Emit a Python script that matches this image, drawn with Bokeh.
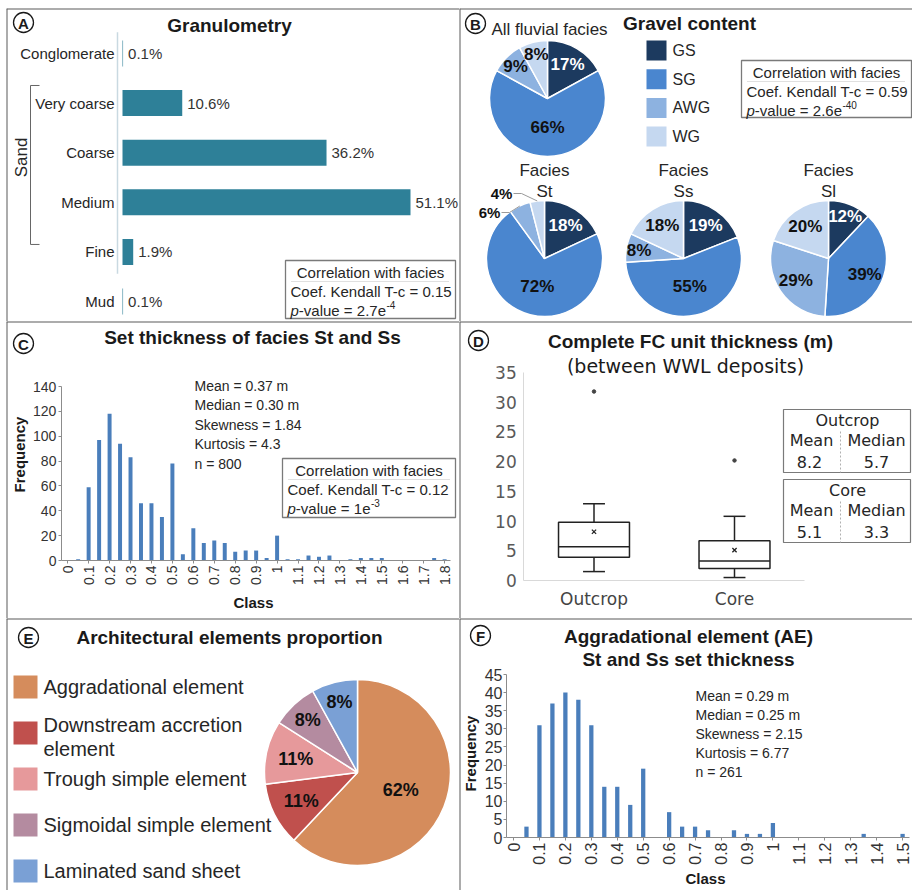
import numpy as np
from bokeh.plotting import figure
from bokeh.models import Range1d, LinearAxis, FixedTicker, Spacer, Span
from bokeh.layouts import row, column
from bokeh.core.properties import value
from bokeh.embed import file_html
from bokeh.resources import INLINE

# ---------------- data ----------------
A_categories = ["Conglomerate", "Very coarse", "Coarse", "Medium", "Fine", "Mud"]
A_percent = [0.1, 10.6, 36.2, 51.1, 1.9, 0.1]
A_sand_first, A_sand_last = "Very coarse", "Fine"
A_corr = ["0.15", "2.7e", "-4"]

B_classes = ["GS", "SG", "AWG", "WG"]
B_all = [17, 66, 9, 8]
B_st = [18, 72, 6, 4]
B_ss = [19, 55, 8, 18]
B_sl = [12, 39, 29, 20]
B_facies = ["St", "Ss", "Sl"]
B_corr = ["0.59", "2.6e", "-40"]

C_classes = ["0", "0.05", "0.1", "0.15", "0.2", "0.25", "0.3", "0.35", "0.4", "0.45",
             "0.5", "0.55", "0.6", "0.65", "0.7", "0.75", "0.8", "0.85", "0.9", "0.95",
             "1", "1.05", "1.1", "1.15", "1.2", "1.25", "1.3", "1.35", "1.4", "1.45",
             "1.5", "1.55", "1.6", "1.65", "1.7", "1.75", "1.8"]
C_freq = [0, 1, 59, 97, 118, 94, 83, 46, 46, 35,
          78, 5, 26, 14, 16, 14, 7, 8, 8, 2,
          20, 1, 1, 4, 3, 4, 0, 1, 2, 2,
          2, 0, 0, 0, 0, 2, 1]
C_stats = ["Mean = 0.37 m", "Median = 0.30 m", "Skewness = 1.84", "Kurtosis = 4.3"]
C_corr = ["0.12", "1e", "-3"]

D_groups = ["Outcrop", "Core"]
D_lower = [1.5, 0.5]
D_q1 = [3.9, 2.0]
D_median = [5.7, 3.3]
D_q3 = [9.8, 6.7]
D_upper = [12.9, 10.8]
D_mean = [8.2, 5.1]
D_outlier = [31.8, 20.2]

E_elements = ["Aggradational element", "Downstream accretion element",
              "Trough simple element", "Sigmoidal simple element", "Laminated sand sheet"]
E_percent = [62, 11, 11, 8, 8]

F_classes = ["0", "0.05", "0.1", "0.15", "0.2", "0.25", "0.3", "0.35", "0.4", "0.45",
             "0.5", "0.55", "0.6", "0.65", "0.7", "0.75", "0.8", "0.85", "0.9", "0.95",
             "1", "1.05", "1.1", "1.15", "1.2", "1.25", "1.3", "1.35", "1.4", "1.45", "1.5"]
F_freq = [0, 3, 31, 37, 40, 38, 31, 14, 14, 9,
          19, 0, 7, 3, 3, 2, 0, 2, 1, 1,
          4, 0, 0, 0, 0, 0, 0, 1, 0, 0, 1]
F_stats = ["Mean = 0.29 m", "Median = 0.25 m", "Skewness = 2.15", "Kurtosis = 6.77"]

# ---------------- styles ----------------
FONT = "Liberation Sans"
DFONT = "DejaVu Sans"
TXT = "#262626"
A_BAR = "#2e8098"
HIST_BAR = "#4a7ebb"
B_COLORS = ["#1c3a5f", "#4a86cf", "#8db2e0", "#c5d8f0"]
B_LABEL_COLORS = ["white", "#111111", "#111111", "#111111"]
E_COLORS = ["#d58c5c", "#c0504d", "#e6999b", "#b48ba0", "#7aa0d5"]
BORDER = "#5a5a5a"

AW = {' ': 278, '-': 333, '=': 584, '.': 278, 'a': 556, 'e': 556, 'l': 222,
      'u': 556, 'v': 500, 'p': 556}


def tw(s, size):
    return sum(AW.get(ch, 556) for ch in s) * size / 1000.0


class Conv:
    def __init__(self, w, h, xs, xe, ys, ye):
        self.w, self.h, self.xs, self.xe, self.ys, self.ye = w, h, xs, xe, ys, ye

    def x(self, px):
        return self.xs + px / self.w * (self.xe - self.xs)

    def y(self, py):
        return self.ys + (self.h - py) / self.h * (self.ye - self.ys)


def make_fig(w, h, xs, xe, ys, ye):
    p = figure(width=w, height=h, x_range=Range1d(xs, xe), y_range=Range1d(ys, ye),
               output_backend="svg", toolbar_location=None,
               x_axis_type=None, y_axis_type=None,
               min_border=0, min_border_left=0, min_border_right=0,
               min_border_top=0, min_border_bottom=0,
               outline_line_color=None, background_fill_color="white",
               border_fill_color="white")
    p.add_layout(Span(location=xs, dimension="height", line_color=BORDER, line_width=2))
    p.add_layout(Span(location=ye, dimension="width", line_color=BORDER, line_width=2))
    return p, Conv(w, h, xs, xe, ys, ye)


def T(p, cv, px, py, s, size, font=FONT, style="normal", color=TXT, align="left",
      baseline="middle", angle=0.0):
    p.text(x=[cv.x(px)], y=[cv.y(py)], text=[s], text_font=value(font),
           text_font_size=value(f"{size}px"), text_font_style=style,
           text_color=color, text_align=align, text_baseline=baseline, angle=angle)


def circ_letter(p, cv, px, py, letter):
    p.scatter(x=[cv.x(px)], y=[cv.y(py)], marker="circle", size=20, fill_color=None,
              line_color="#1a1a1a", line_width=1.3)
    T(p, cv, px, py + 0.5, letter, 15, style="bold", color="#1a1a1a", align="center")


def corr_box(p, cv, x0, y0, x1, y1, corr):
    coef, base, exp = corr
    p.quad(left=[cv.x(x0)], right=[cv.x(x1)], top=[cv.y(y0)], bottom=[cv.y(y1)],
           fill_color=None, line_color="#7a7a7a", line_width=1.3)
    T(p, cv, (x0 + x1) / 2, y0 + 12, "Correlation with facies", 15, align="center")
    p.line(x=[cv.x(x0 + 6), cv.x(x1 - 6)], y=[cv.y(y0 + 21)] * 2, line_color="#c0c0c0",
           line_width=1, line_dash="1 1")
    T(p, cv, x0 + 5, y0 + 31, f"Coef. Kendall T-c = {coef}", 15)
    T(p, cv, x0 + 5, y0 + 50, "p", 15, style="italic")
    xp = x0 + 5 + tw("p", 15)
    rest = f"-value = {base}"
    T(p, cv, xp, y0 + 50, rest, 15)
    T(p, cv, xp + tw(rest, 15) + 0.5, y0 + 44, exp, 10)


def pie(p, cv, cxp, cyp, r, shares, colors, label_colors, size, outside=None, small=0.1):
    vals = np.array(shares, dtype=float)
    frac = vals / vals.sum()
    c1 = np.cumsum(frac)
    c0 = c1 - frac
    start = np.pi / 2 - 2 * np.pi * c1
    end = np.pi / 2 - 2 * np.pi * c0
    cx, cy = cv.x(cxp), cv.y(cyp)
    n = len(vals)
    p.wedge(x=[cx] * n, y=[cy] * n, radius=r, start_angle=list(start), end_angle=list(end),
            fill_color=colors, line_color="white", line_width=1.5)
    mid = (c0 + c1) / 2
    ang = np.pi / 2 - 2 * np.pi * mid
    outside = outside or {}
    for i in range(n):
        lab = f"{shares[i]}%"
        if i in outside:
            lx, ly = outside[i]
            T(p, cv, lx, ly, lab, 15, style="bold", color="#111111", align="center")
            ex = cx + r * np.cos(ang[i])
            ey = cy + r * np.sin(ang[i])
            xs_ = [cv.x(lx + 12), cv.x(lx + 20), ex]
            ys_ = [cv.y(ly), cv.y(ly), ey]
            p.line(x=xs_, y=ys_, line_color="#9a9a9a", line_width=1)
            continue
        f = 0.5 if frac[i] >= 0.5 else (0.68 if frac[i] > small + 1e-9 else 0.78)
        lx = cx + r * f * np.cos(ang[i])
        ly = cy + r * f * np.sin(ang[i])
        p.text(x=[lx], y=[ly], text=[lab], text_font=value(FONT),
               text_font_size=value(f"{size}px"), text_font_style="bold",
               text_color=label_colors[i], text_align="center", text_baseline="middle")


# ================= Panel A =================
WA, HA = 453, 313
a_scale = 288 / 51.1
a_y0, a_sp = 45, 49.6
pA, cA = make_fig(WA, HA, -116 / a_scale, (WA - 116) / a_scale,
                  (HA - a_y0) / a_sp, -a_y0 / a_sp)
a_idx = np.arange(len(A_categories))
pA.hbar(y=a_idx, left=0, right=A_percent, height=0.524, fill_color=A_BAR, line_color=None)
pA.text(x=A_percent, y=a_idx, text=[f"{v}%" for v in A_percent], x_offset=5,
        text_font=value(FONT), text_font_size=value("15px"), text_color="#333333",
        text_align="left", text_baseline="middle")
ax_x = cA.x(111)
yaxA = LinearAxis(fixed_location=ax_x, ticker=FixedTicker(ticks=list(a_idx)),
                  major_label_overrides={int(i): c for i, c in zip(a_idx, A_categories)},
                  axis_line_color=None, major_tick_line_color=None, minor_tick_line_color=None,
                  major_tick_out=0, major_tick_in=0,
                  major_label_standoff=3, major_label_text_font=FONT,
                  major_label_text_font_size="15px", major_label_text_color=TXT)
pA.add_layout(yaxA, "left")
i_first = A_categories.index(A_sand_first)
i_last = A_categories.index(A_sand_last)
pA.segment(x0=[ax_x], x1=[ax_x], y0=[a_idx[0] - 0.43], y1=[i_last + 0.44],
           line_color="#c9d9e1", line_width=1.5)
bx0, bx1 = cA.x(24), cA.x(33)
b_top, b_bot = i_first - 0.355, i_last - 0.15
pA.line(x=[bx1, bx0, bx0, bx1], y=[b_top, b_top, b_bot, b_bot], line_color="#666666",
        line_width=1)
T(pA, cA, 15, 149, "Sand", 17, align="center", angle=np.pi / 2)
circ_letter(pA, cA, 17, 14, "A")
T(pA, cA, 223, 17, "Granulometry", 19, style="bold", color="#1a1a1a", align="center")
corr_box(pA, cA, 279, 252, 449, 310, A_corr)

# ================= Panel B =================
WB, HB = 453, 313
pB, cB = make_fig(WB, HB, 0, WB, 0, HB)
circ_letter(pB, cB, 16, 15, "B")
T(pB, cB, 90, 21, "All fluvial facies", 17, align="center")
T(pB, cB, 230, 15, "Gravel content", 19, style="bold", color="#1a1a1a", align="center")
pie(pB, cB, 88, 90, 58, B_all, B_COLORS, B_LABEL_COLORS, 17, small=0.12)
leg_y = [cB.y(42 + 28.7 * i) for i in range(len(B_classes))]
pB.rect(x=[cB.x(197)] * len(B_classes), y=leg_y, width=20, height=20,
        fill_color=B_COLORS, line_color=None)
pB.text(x=[cB.x(213)] * len(B_classes), y=leg_y, text=B_classes, text_font=value(FONT),
        text_font_size=value("16px"), text_color=TXT, text_baseline="middle")
corr_box(pB, cB, 282, 52, 452, 109, B_corr)
for name, shares, cxp in zip(B_facies, [B_st, B_ss, B_sl], [85, 224, 369]):
    T(pB, cB, cxp, 162, "Facies", 17, align="center")
    T(pB, cB, cxp, 183, name, 17, align="center")
    outside = {2: (30, 204), 3: (42, 185)} if name == "St" else None
    pie(pB, cB, cxp, 250, 58, shares, B_COLORS, B_LABEL_COLORS, 17, outside=outside,
        small=0.12)

# ================= Panel C =================
WC, HC = 453, 297
c_sp, c_x0 = 10.47, 61.2
c_py0, c_pps = 239, 174 / 140
pC, cC = make_fig(WC, HC, -c_x0 / c_sp, (WC - c_x0) / c_sp,
                  -(HC - c_py0) / c_pps, c_py0 / c_pps)
c_idx = np.arange(len(C_classes))
pC.vbar(x=c_idx, top=C_freq, width=0.38, fill_color=HIST_BAR, line_color=None)
even = [int(i) for i in c_idx if i % 2 == 0]
yaxC = LinearAxis(fixed_location=-0.6, bounds=(0, 140),
                  ticker=FixedTicker(ticks=list(range(0, 141, 20))),
                  axis_line_color="#8c8c8c", major_tick_line_color="#8c8c8c",
                  major_tick_out=3, major_tick_in=0, minor_tick_line_color=None,
                  major_label_standoff=2, major_label_text_font=FONT,
                  major_label_text_font_size="14px", major_label_text_color="#333333")
pC.add_layout(yaxC, "left")
xaxC = LinearAxis(fixed_location=0, bounds=(-0.6, len(C_classes) - 0.45),
                  ticker=FixedTicker(ticks=even),
                  major_label_overrides={i: C_classes[i] for i in even},
                  major_label_orientation=np.pi / 2,
                  axis_line_color="#8c8c8c", major_tick_line_color="#8c8c8c",
                  major_tick_out=3, major_tick_in=0, minor_tick_line_color=None,
                  major_label_standoff=2, major_label_text_font=FONT,
                  major_label_text_font_size="14px", major_label_text_color="#333333")
pC.add_layout(xaxC, "below")
circ_letter(pC, cC, 17, 22, "C")
T(pC, cC, 246, 16, "Set thickness of facies St and Ss", 19, style="bold", color="#1a1a1a",
  align="center")
for k, s in enumerate(C_stats + [f"n = {sum(C_freq)}"]):
    T(pC, cC, 188, 64 + 19.5 * k, s, 14)
corr_box(pC, cC, 276, 137, 449, 196, C_corr)
T(pC, cC, 13, 133, "Frequency", 15, style="bold", color="#1a1a1a", align="center",
  angle=np.pi / 2)
T(pC, cC, 247, 281, "Class", 15, style="bold", color="#1a1a1a", align="center")

# ================= Panel D =================
WD, HD = 453, 297
d_sp, d_x0 = 140.5, 134.5
d_py0, d_pps = 259, 208 / 35
pD, cD = make_fig(WD, HD, -d_x0 / d_sp, (WD - d_x0) / d_sp,
                  -(HD - d_py0) / d_pps, d_py0 / d_pps)
d_idx = np.arange(len(D_groups))
bw = 0.505
pD.vbar(x=d_idx, bottom=D_q1, top=D_q3, width=bw, fill_color=None, line_color="#222222",
        line_width=1.5)
pD.segment(x0=d_idx - bw / 2, x1=d_idx + bw / 2, y0=D_median, y1=D_median,
           line_color="#222222", line_width=1.5)
pD.segment(x0=d_idx, x1=d_idx, y0=D_q3, y1=D_upper, line_color="#222222", line_width=1.5)
pD.segment(x0=d_idx, x1=d_idx, y0=D_q1, y1=D_lower, line_color="#222222", line_width=1.5)
pD.segment(x0=d_idx - 0.078, x1=d_idx + 0.078, y0=D_upper, y1=D_upper,
           line_color="#222222", line_width=1.5)
pD.segment(x0=d_idx - 0.078, x1=d_idx + 0.078, y0=D_lower, y1=D_lower,
           line_color="#222222", line_width=1.5)
pD.scatter(x=d_idx, y=D_mean, marker="x", size=6, line_color="#222222", line_width=1.3)
pD.scatter(x=d_idx, y=D_outlier, marker="circle", size=3.5, fill_color="#444444",
           line_color="#444444")
yaxD = LinearAxis(fixed_location=-0.5, bounds=(0, 35),
                  ticker=FixedTicker(ticks=list(range(0, 36, 5))),
                  axis_line_color="#d9d9d9", major_tick_line_color=None,
                  major_tick_out=0, major_tick_in=0,
                  minor_tick_line_color=None, major_label_standoff=7,
                  major_label_text_font=DFONT, major_label_text_font_size="17px",
                  major_label_text_color="#595959")
pD.add_layout(yaxD, "left")
xaxD = LinearAxis(fixed_location=0, bounds=(-0.5, 1.5), ticker=FixedTicker(ticks=list(d_idx)),
                  major_label_overrides={int(i): g for i, g in zip(d_idx, D_groups)},
                  axis_line_color="#d9d9d9", major_tick_line_color=None,
                  major_tick_out=0, major_tick_in=0,
                  minor_tick_line_color=None, major_label_standoff=8,
                  major_label_text_font=DFONT, major_label_text_font_size="17px",
                  major_label_text_color="#444444")
pD.add_layout(xaxD, "below")
circ_letter(pD, cD, 19, 19, "D")
T(pD, cD, 231, 20, "Complete FC unit thickness (m)", 19, style="bold", color="#1a1a1a",
  align="center")
T(pD, cD, 226, 44, "(between WWL deposits)", 19, font=DFONT, color="#1a1a1a", align="center")
for k, (g, mval, medval) in enumerate(zip(D_groups, D_mean, D_median)):
    y0 = 88 + 70 * k
    pD.quad(left=[cD.x(324)], right=[cD.x(451)], top=[cD.y(y0)], bottom=[cD.y(y0 + 63)],
            fill_color=None, line_color="#7a7a7a", line_width=1.2)
    pD.line(x=[cD.x(381)] * 2, y=[cD.y(y0 + 22), cD.y(y0 + 63)], line_color="#b0b0b0",
            line_width=1, line_dash="2 2")
    T(pD, cD, 388, y0 + 11, g, 16, font=DFONT, align="center")
    T(pD, cD, 352, y0 + 31, "Mean", 16, font=DFONT, align="center")
    T(pD, cD, 417, y0 + 31, "Median", 16, font=DFONT, align="center")
    T(pD, cD, 350, y0 + 52, f"{mval:.1f}", 16, font=DFONT, align="center")
    T(pD, cD, 417, y0 + 52, f"{medval:.1f}", 16, font=DFONT, align="center")

# ================= Panel E =================
WE, HE = 453, 272
pE, cE = make_fig(WE, HE, 0, WE, 0, HE)
circ_letter(pE, cE, 22, 19, "E")
T(pE, cE, 223, 19, "Architectural elements proportion", 19, style="bold", color="#1a1a1a",
  align="center")
e_leg_y = [68.5 + 46 * i for i in range(len(E_elements))]
pE.rect(x=[cE.x(19)] * len(E_elements), y=[cE.y(v) for v in e_leg_y], width=24, height=23,
        fill_color=E_COLORS, line_color=None)
for name, ly in zip(E_elements, e_leg_y):
    if len(name) > 25:
        cut = name.rfind(" ")
        lines = [name[:cut], name[cut + 1:]]
        T(pE, cE, 37, ly - 8, lines[0], 20)
        T(pE, cE, 37, ly + 16, lines[1], 20)
    else:
        T(pE, cE, 37, ly, name, 20)
pie(pE, cE, 351, 154, 93, E_percent, E_COLORS, ["#111111"] * len(E_percent), 18)

# ================= Panel F =================
WF, HF = 453, 272
f_sp, f_x0 = 12.97, 54
f_py0, f_pps = 219, 163 / 45
pF, cF = make_fig(WF, HF, -f_x0 / f_sp, (WF - f_x0) / f_sp,
                  -(HF - f_py0) / f_pps, f_py0 / f_pps)
f_idx = np.arange(len(F_classes))
pF.vbar(x=f_idx, top=F_freq, width=0.33, fill_color=HIST_BAR, line_color=None)
f_even = [int(i) for i in f_idx if i % 2 == 0]
yaxF = LinearAxis(fixed_location=-0.54, bounds=(0, 45),
                  ticker=FixedTicker(ticks=list(range(0, 46, 5))),
                  axis_line_color="#8c8c8c", major_tick_line_color="#8c8c8c",
                  major_tick_out=3, major_tick_in=0, minor_tick_line_color=None,
                  major_label_standoff=1, major_label_text_font=FONT,
                  major_label_text_font_size="16px", major_label_text_color="#333333")
pF.add_layout(yaxF, "left")
xaxF = LinearAxis(fixed_location=0, bounds=(-0.54, len(F_classes) - 0.45),
                  ticker=FixedTicker(ticks=f_even),
                  major_label_overrides={i: F_classes[i] for i in f_even},
                  major_label_orientation=np.pi / 2,
                  axis_line_color="#8c8c8c", major_tick_line_color="#8c8c8c",
                  major_tick_out=3, major_tick_in=0, minor_tick_line_color=None,
                  major_label_standoff=2, major_label_text_font=FONT,
                  major_label_text_font_size="16px", major_label_text_color="#333333")
pF.add_layout(xaxF, "below")
circ_letter(pF, cF, 21, 17, "F")
T(pF, cF, 229, 18, "Aggradational element (AE)", 19, style="bold", color="#1a1a1a",
  align="center")
T(pF, cF, 229, 41, "St and Ss set thickness", 19, style="bold", color="#1a1a1a",
  align="center")
for k, s in enumerate(F_stats + [f"n = {sum(F_freq)}"]):
    T(pF, cF, 236, 77 + 19 * k, s, 14)
T(pF, cF, 11, 135, "Frequency", 15, style="bold", color="#1a1a1a", align="center",
  angle=np.pi / 2)
T(pF, cF, 246, 260, "Class", 15, style="bold", color="#1a1a1a", align="center")

# ================= layout =================
grid = column(row(pA, pB), row(pC, pD), row(pE, pF))
layout = column(Spacer(width=912, height=8), row(Spacer(width=6, height=882), grid))

with open("out.html", "w") as fh:
    fh.write(file_html(layout, INLINE))
